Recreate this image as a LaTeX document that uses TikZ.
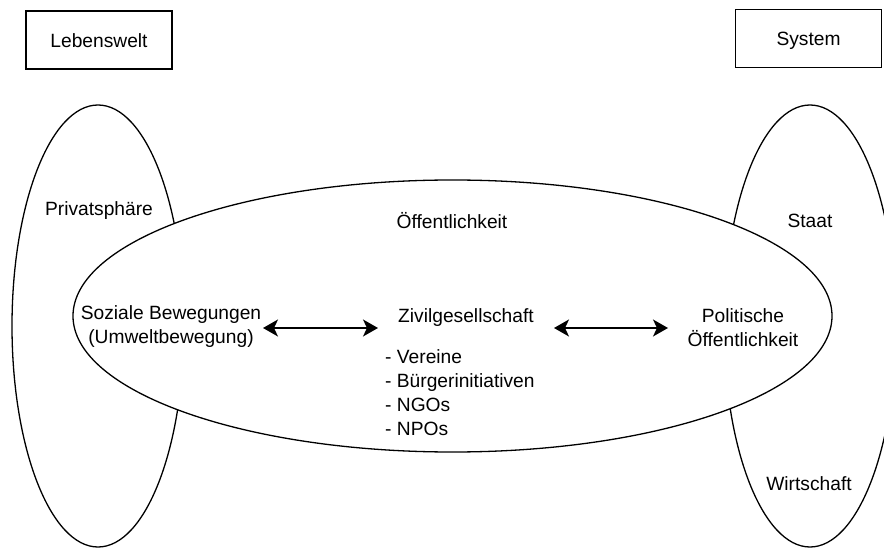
\documentclass[tikz,border=0pt]{standalone}
\usepackage{fontspec}
\setmainfont{Liberation Sans}
\usetikzlibrary{arrows.meta}
\begin{document}
\begin{tikzpicture}[x=1pt,y=-1pt,
  lbl/.style={font=\fontsize{19.2}{23.7}\selectfont, inner sep=0pt, anchor=base, align=center},
  box/.style={draw, line width=1.3pt, minimum width=146pt, minimum height=58pt, inner sep=0pt},
  ring/.style={draw, line width=1.3pt},
  conn/.style={line width=1.3pt, {Stealth[length=15pt,width=17pt,inset=4pt]}-{Stealth[length=15pt,width=17pt,inset=4pt]}}]
\useasboundingbox (0,0) rectangle (884,548);
\clip (0,0) rectangle (884,548);
% boxes
\node[box] (lw) at (99,40) {};
\node[lbl] (lwt) at (99,48) {Lebenswelt};
\node[box] (sy) at (808.5,38.5) {};
\node[lbl] (syt) at (808.5,45.5) {System};
% side ellipses
\draw[ring] (98,326) ellipse [x radius=86pt, y radius=221pt];
\draw[ring] (810,326) ellipse [x radius=86pt, y radius=221pt];
% central ellipse
\draw[ring, fill=white] (452.5,316) ellipse [x radius=379.5pt, y radius=136pt];
% labels
\node[lbl] (priv) at (99,216) {Privatsphäre};
\node[lbl] (oeff) at (452,229) {Öffentlichkeit};
\node[lbl] (staat) at (810,228) {Staat};
\node[lbl] (wirt) at (809,490) {Wirtschaft};
\node[lbl] (soz) at (171,343) {Soziale Bewegungen\\(Umweltbewegung)};
\node[lbl] (pol) at (743,346) {Politische\\Öffentlichkeit};
\node[lbl] (ziv) at (466,322) {Zivilgesellschaft};
\node[lbl, anchor=base west, align=left] (list) at (385,435) {- Vereine\\- Bürgerinitiativen\\- NGOs\\- NPOs};
% arrows
\coordinate (a1) at (263,328);
\coordinate (a2) at (378,328);
\coordinate (b1) at (554,328);
\coordinate (b2) at (668,328);
\draw[conn] (a1) -- (a2);
\draw[conn] (b1) -- (b2);
\end{tikzpicture}
\end{document}
